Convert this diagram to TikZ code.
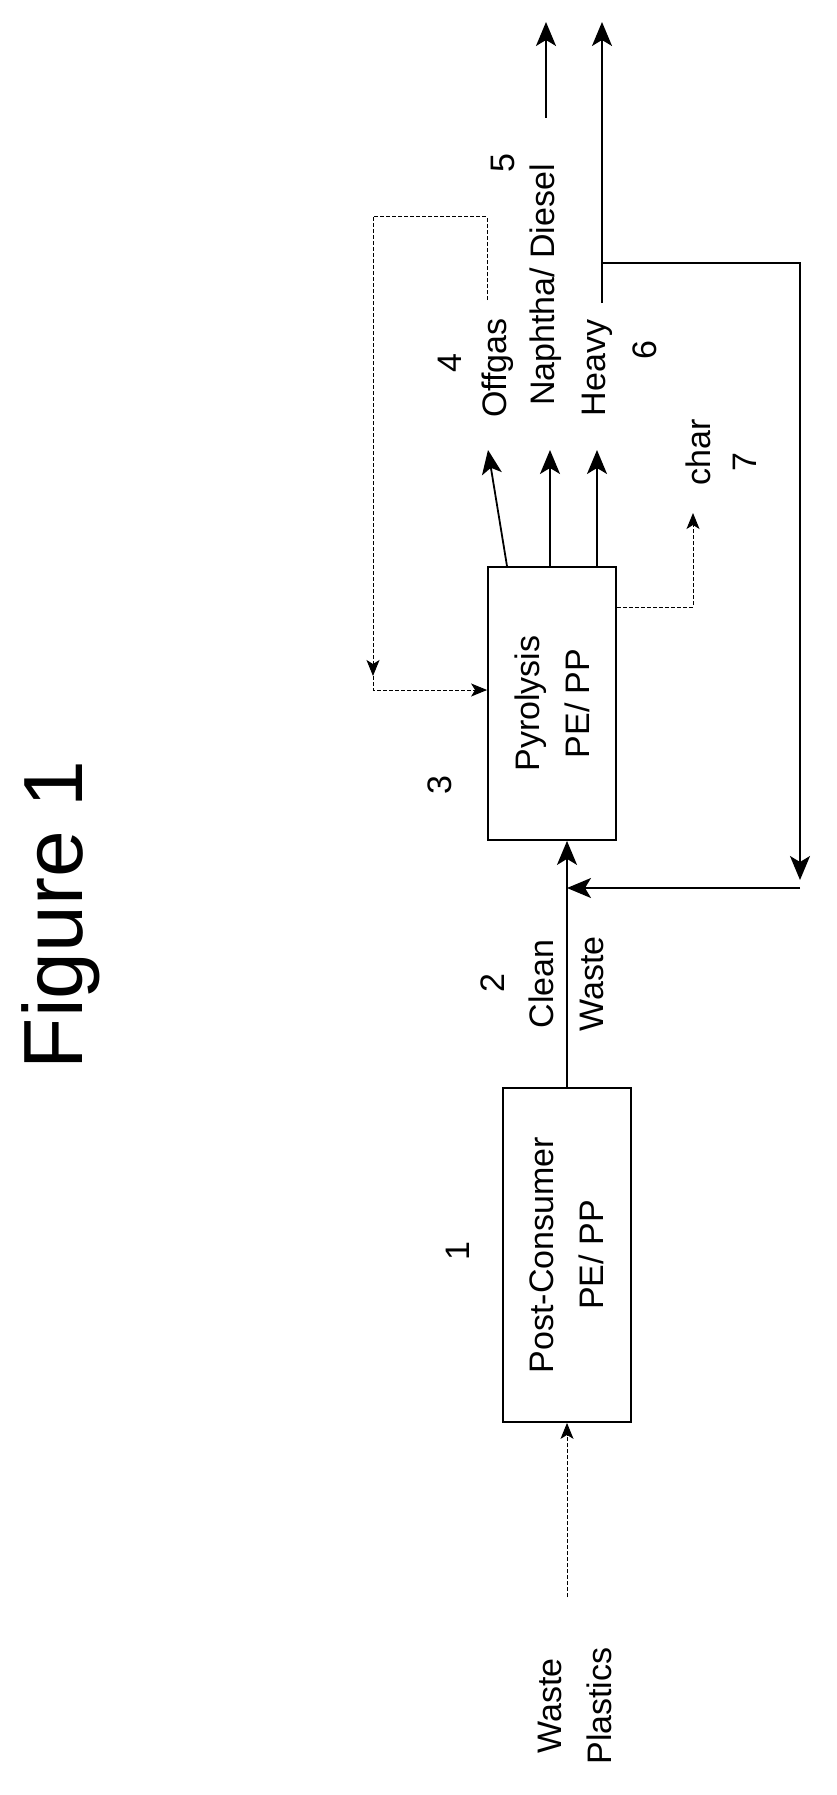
\documentclass[tikz,border=0pt]{standalone}
\usepackage{fontspec}
\setmainfont{Liberation Sans}
\usetikzlibrary{arrows.meta}
\begin{document}
\begin{tikzpicture}[x=1pt,y=-1pt,
  box/.style={draw,line width=1.8pt,minimum width=128pt,inner sep=0pt},
  txt/.style={rotate=90,inner sep=0pt,align=center,font=\fontsize{34}{50}\selectfont},
  main/.style={line width=1.8pt,-{Stealth[length=24pt,width=20pt,inset=6pt]}},
  plain/.style={line width=1.8pt},
  thin/.style={line width=1pt,dash pattern=on 4pt off 2pt},
  thinarr/.style={thin,-{Stealth[length=16pt,width=13pt,inset=4pt]}}]
\useasboundingbox (0,0) rectangle (836,1795);
\node[rotate=90,anchor=base,inner sep=0pt,font=\fontsize{84}{90}\selectfont] (title) at (82,915) {Figure 1};
% boxes
\node[box,minimum height=334pt] (b1) at (567,1255) {};
\node[txt] (t1) at (b1) {Post-Consumer\\PE/ PP};
\node[box,minimum height=273pt] (b3) at (552,703.5) {};
\node[txt] (t3) at (b3) {Pyrolysis\\PE/ PP};
% labels
\node[txt] (n1) at (458,1251) {1};
\node[txt] (n2) at (493,983) {2};
\node[txt] (n3) at (440,785) {3};
\node[txt] (n4) at (450,363) {4};
\node[txt] (n5) at (503,163) {5};
\node[txt] (n6) at (645,350) {6};
\node[txt] (n7) at (745,462) {7};
\node[txt] (wp) at (575,1706) {Waste\\Plastics};
\node[txt] (cw) at (566,984) {Clean\\Waste};
\node[txt] (off) at (498,368) {Offgas};
\node[txt] (nap) at (546,285) {Naphtha/ Diesel};
\node[txt] (hv) at (597,368) {Heavy};
\node[txt] (ch) at (698,452) {char};
% coordinates
\coordinate (in0) at (567,1597);
\coordinate (otip) at (488,450);
\coordinate (ntip) at (550,450);
\coordinate (htip) at (597,450);
\coordinate (ctip) at (693,513);
\coordinate (r0) at (487,300);
\coordinate (r1) at (373,217);
\coordinate (r2) at (373,676);
\coordinate (r3) at (373,690);
\coordinate (n0) at (546,118);
\coordinate (n9) at (546,22);
\coordinate (h0) at (602,303);
\coordinate (hb) at (602,263);
\coordinate (h9) at (602,22);
\coordinate (c1) at (800,880);
\coordinate (c2) at (800,888);
% connectors
\draw[thinarr] (in0) -- (b1.south);
\draw[main] (b1.north) -- (b1.north |- b3.south);
\draw[main] ([xshift=-45pt]b3.north) -- (otip);
\draw[main] ([xshift=-2pt]b3.north) -- (ntip);
\draw[main] ([xshift=45pt]b3.north) -- (htip);
\draw[thinarr] ([yshift=96.5pt]b3.east) -| (ctip);
\draw[thin] (r0) |- (r1);
\draw[thinarr] (r1) -- (r2);
\draw[thinarr] (r2) -- (r3) -- ([yshift=13.5pt]b3.west);
\draw[main] (n0) -- (n9);
\draw[main] (h0) -- (h9);
\draw[main] (hb) -| (c1);
\draw[main] (c2) -- (b1.north |- c2);
\end{tikzpicture}
\end{document}
